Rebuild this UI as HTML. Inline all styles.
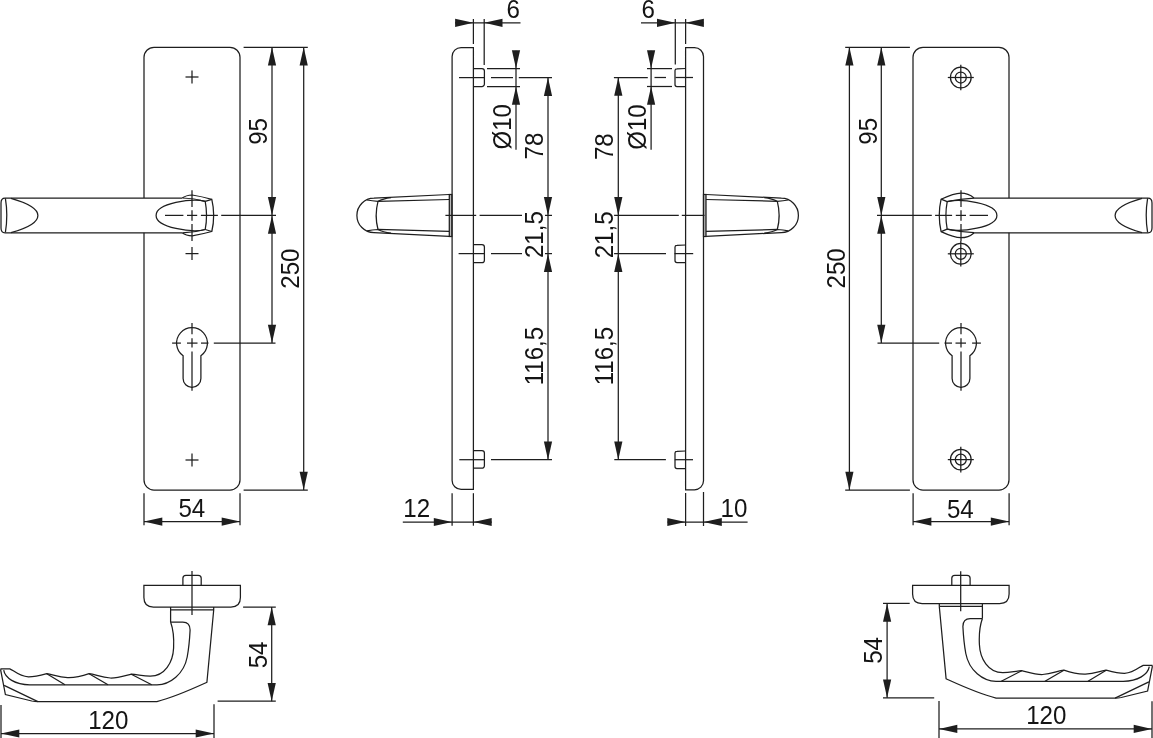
<!DOCTYPE html>
<html><head><meta charset="utf-8"><style>
html,body{margin:0;padding:0;background:#fff;width:1153px;height:738px;overflow:hidden}
svg{display:block;will-change:transform}
text{font-family:"Liberation Sans",sans-serif}
</style></head><body>
<svg width="1153" height="738" viewBox="0 0 1153 738">
<rect width="1153" height="738" fill="#fff"/>
<g fill="none" stroke="#1e1e1e" stroke-width="1.25" stroke-linecap="butt">
<g>
<rect x="144" y="47.3" width="96" height="442.7" rx="10" ry="10"/>
<line x1="185.50" y1="77.00" x2="198.50" y2="77.00"/>
<line x1="192.00" y1="70.50" x2="192.00" y2="83.50"/>
<line x1="185.50" y1="253.60" x2="198.50" y2="253.60"/>
<line x1="192.00" y1="247.10" x2="192.00" y2="260.10"/>
<line x1="185.50" y1="460.00" x2="198.50" y2="460.00"/>
<line x1="192.00" y1="453.50" x2="192.00" y2="466.50"/>
<path d="M182,198.1 L5,198.1 Q1,198.1 1,203 L1,228 Q1,232.8 5,232.8 L182,232.8 L182,198.1" fill="#fff" stroke="none"/>
<path d="M182,198.1 L5,198.1 Q1,198.1 1,203 L1,228 Q1,232.8 5,232.8 L182,232.8" />
<path d="M182.2,198.1 C185,195.8 188,195.1 192.3,195.0 L211.8,199.3 Q215.6,215.4 211.8,231.5 L192.3,235.8 C188,235.7 185,235 182.2,232.7 Z" fill="#fff" stroke="none"/>
<path d="M5.4,198.4 Q8.2,215.4 5.4,232.4" />
<path d="M11,198.3 C24,202 37.9,208 37.9,215.4 C37.9,223 24,229 11,232.6" />
<path d="M182.2,198.1 C185,195.8 188,195.1 192.3,195.0 Q202,196.6 211.8,199.3 Q215.6,215.4 211.8,231.5 Q202,234.2 192.3,235.8 C188,235.7 185,235 182.2,232.7" />
<path d="M182.5,198.0 Q194,198.1 205.2,201.3 Q207.9,215.4 205.2,229.5 Q194,232.7 182.5,232.8" />
<path d="M205.2,201.3 L211.8,199.3 M205.2,229.5 L211.8,231.5" />
<path d="M205.2,201.3 C192.6,197.9 156.1,203 156.1,215.4 C156.1,227.8 192.6,232.9 205.2,229.5" />
<path d="M183.1,355.67 A15.4,15.4 0 1 1 200.9,355.67 L200.9,378.5 A8.9,8.9 0 0 1 183.1,378.5 Z" />
</g>
<g transform="translate(1153,0) scale(-1,1)">
<rect x="144" y="47.3" width="96" height="442.7" rx="10" ry="10"/>
<circle cx="192.2" cy="77.5" r="10.35"/>
<circle cx="192.2" cy="77.5" r="5.5"/>
<line x1="179.20" y1="77.50" x2="205.20" y2="77.50"/>
<line x1="192.20" y1="64.70" x2="192.20" y2="90.30"/>
<circle cx="192.2" cy="253.8" r="10.35"/>
<circle cx="192.2" cy="253.8" r="5.5"/>
<line x1="179.20" y1="253.80" x2="205.20" y2="253.80"/>
<line x1="192.20" y1="241.00" x2="192.20" y2="266.60"/>
<circle cx="192.2" cy="459.6" r="10.35"/>
<circle cx="192.2" cy="459.6" r="5.5"/>
<line x1="179.20" y1="459.60" x2="205.20" y2="459.60"/>
<line x1="192.20" y1="446.80" x2="192.20" y2="472.40"/>
<path d="M182,198.1 L5,198.1 Q1,198.1 1,203 L1,228 Q1,232.8 5,232.8 L182,232.8 L182,198.1" fill="#fff" stroke="none"/>
<path d="M182,198.1 L5,198.1 Q1,198.1 1,203 L1,228 Q1,232.8 5,232.8 L182,232.8" />
<path d="M179,197.9 C183,194.5 188,193.1 192.1,193.1 C198,193.1 204,195.5 211.9,199.2 Q215.6,215.4 211.9,231.6 C204,235.3 198,237.7 192.1,237.7 C188,237.7 183,236.3 179,232.9 Z" fill="#fff" stroke="none"/>
<path d="M5.4,198.4 Q8.2,215.4 5.4,232.4" />
<path d="M11,198.3 C24,202 37.9,208 37.9,215.4 C37.9,223 24,229 11,232.6" />
<path d="M179,197.9 C183,194.5 188,193.1 192.1,193.1 C198,193.1 204,195.5 211.9,199.2 Q215.6,215.4 211.9,231.6 C204,235.3 198,237.7 192.1,237.7 C188,237.7 183,236.3 179,232.9" />
<path d="M179,198.1 C188,198.6 196,199.6 205.8,201.7 Q208.4,215.4 205.8,229.1 C196,231.2 188,232.2 179,232.7" />
<path d="M205.8,201.7 L211.9,199.2 M205.8,229.1 L211.9,231.6" />
<path d="M205.8,201.7 C193,198.4 156.1,203 156.1,215.4 C156.1,227.8 193,232.4 205.8,229.1" />
<path d="M183.1,355.67 A15.4,15.4 0 1 1 200.9,355.67 L200.9,378.5 A8.9,8.9 0 0 1 183.1,378.5 Z" />
</g>
</g>
<g stroke="#1e1e1e" stroke-width="1.25" fill="none">
<line x1="165.00" y1="215.40" x2="183.40" y2="215.40"/>
<line x1="187.00" y1="215.40" x2="197.20" y2="215.40"/>
<line x1="200.90" y1="215.40" x2="217.90" y2="215.40"/>
<line x1="221.20" y1="215.40" x2="276.00" y2="215.40"/>
<line x1="192.00" y1="190.30" x2="192.00" y2="207.00"/>
<line x1="192.00" y1="210.20" x2="192.00" y2="220.80"/>
<line x1="192.00" y1="224.00" x2="192.00" y2="241.10"/>
<line x1="172.10" y1="343.10" x2="180.90" y2="343.10"/>
<line x1="187.00" y1="343.10" x2="197.50" y2="343.10"/>
<line x1="201.00" y1="343.10" x2="208.50" y2="343.10"/>
<line x1="213.80" y1="343.10" x2="275.50" y2="343.10"/>
<line x1="192.00" y1="323.10" x2="192.00" y2="334.30"/>
<line x1="192.00" y1="338.30" x2="192.00" y2="347.50"/>
<line x1="192.00" y1="351.50" x2="192.00" y2="390.70"/>
<line x1="969.60" y1="215.40" x2="988.00" y2="215.40"/>
<line x1="955.80" y1="215.40" x2="966.00" y2="215.40"/>
<line x1="935.10" y1="215.40" x2="952.10" y2="215.40"/>
<line x1="877.00" y1="215.40" x2="931.80" y2="215.40"/>
<line x1="961.00" y1="190.30" x2="961.00" y2="207.00"/>
<line x1="961.00" y1="210.20" x2="961.00" y2="220.80"/>
<line x1="961.00" y1="224.00" x2="961.00" y2="241.10"/>
<line x1="972.10" y1="343.10" x2="980.90" y2="343.10"/>
<line x1="955.50" y1="343.10" x2="966.00" y2="343.10"/>
<line x1="944.50" y1="343.10" x2="952.00" y2="343.10"/>
<line x1="877.50" y1="343.10" x2="939.20" y2="343.10"/>
<line x1="961.00" y1="323.10" x2="961.00" y2="334.30"/>
<line x1="961.00" y1="338.30" x2="961.00" y2="347.50"/>
<line x1="961.00" y1="351.50" x2="961.00" y2="390.70"/>
<line x1="243.60" y1="47.30" x2="307.80" y2="47.30"/>
<line x1="243.60" y1="490.00" x2="307.80" y2="490.00"/>
<line x1="272.00" y1="47.30" x2="272.00" y2="343.10"/>
<line x1="303.70" y1="47.30" x2="303.70" y2="490.00"/>
<polygon points="272.00,47.30 267.90,65.60 276.10,65.60" fill="#1e1e1e" stroke="none"/>
<polygon points="272.00,215.40 267.90,197.10 276.10,197.10" fill="#1e1e1e" stroke="none"/>
<polygon points="272.00,215.40 267.90,233.70 276.10,233.70" fill="#1e1e1e" stroke="none"/>
<polygon points="272.00,343.10 267.90,324.80 276.10,324.80" fill="#1e1e1e" stroke="none"/>
<polygon points="303.70,47.30 299.60,65.60 307.80,65.60" fill="#1e1e1e" stroke="none"/>
<polygon points="303.70,490.00 299.60,471.70 307.80,471.70" fill="#1e1e1e" stroke="none"/>
<line x1="144.00" y1="493.20" x2="144.00" y2="525.30"/>
<line x1="240.00" y1="493.20" x2="240.00" y2="525.30"/>
<line x1="144.00" y1="521.60" x2="240.00" y2="521.60"/>
<polygon points="144.00,521.60 162.30,517.50 162.30,525.70" fill="#1e1e1e" stroke="none"/>
<polygon points="240.00,521.60 221.70,517.50 221.70,525.70" fill="#1e1e1e" stroke="none"/>
<line x1="845.20" y1="47.30" x2="909.90" y2="47.30"/>
<line x1="845.20" y1="490.00" x2="909.90" y2="490.00"/>
<line x1="881.30" y1="47.30" x2="881.30" y2="343.10"/>
<line x1="849.40" y1="47.30" x2="849.40" y2="490.00"/>
<polygon points="881.30,47.30 877.20,65.60 885.40,65.60" fill="#1e1e1e" stroke="none"/>
<polygon points="881.30,215.40 877.20,197.10 885.40,197.10" fill="#1e1e1e" stroke="none"/>
<polygon points="881.30,215.40 877.20,233.70 885.40,233.70" fill="#1e1e1e" stroke="none"/>
<polygon points="881.30,343.10 877.20,324.80 885.40,324.80" fill="#1e1e1e" stroke="none"/>
<polygon points="849.40,47.30 845.30,65.60 853.50,65.60" fill="#1e1e1e" stroke="none"/>
<polygon points="849.40,490.00 845.30,471.70 853.50,471.70" fill="#1e1e1e" stroke="none"/>
<line x1="913.10" y1="493.20" x2="913.10" y2="525.30"/>
<line x1="1009.10" y1="493.20" x2="1009.10" y2="525.30"/>
<line x1="913.10" y1="521.60" x2="1009.10" y2="521.60"/>
<polygon points="913.10,521.60 931.40,517.50 931.40,525.70" fill="#1e1e1e" stroke="none"/>
<polygon points="1009.10,521.60 990.80,517.50 990.80,525.70" fill="#1e1e1e" stroke="none"/>
</g>
<g stroke="#1e1e1e" stroke-width="1.25" fill="none">
<path d="M473.4,47.5 L461.1,47.5 A9,9 0 0 0 452.1,56.5 L452.1,480.4 A9,9 0 0 0 461.1,489.4 L473.4,489.4 Z" />
<path d="M473.4,68.5 L481.9,68.5 A2.5,2.5 0 0 1 484.4,71.0 L484.4,84.0 A2.5,2.5 0 0 1 481.9,86.5 L473.4,86.5" />
<path d="M473.4,244.5 L481.9,244.5 A2.5,2.5 0 0 1 484.4,247.0 L484.4,260.2 A2.5,2.5 0 0 1 481.9,262.7 L473.4,262.7" />
<path d="M473.4,450.6 L481.9,450.6 A2.5,2.5 0 0 1 484.4,453.1 L484.4,465.7 A2.5,2.5 0 0 1 481.9,468.2 L473.4,468.2" />
<path d="M449.2,194.5 L373.9,198.2 A17,17.2 0 0 0 373.9,232.6 L449.2,236.3" />
<path d="M449.2,199.5 L378,201.3 Q372,200.9 367,200.0 M449.2,231.3 L378,229.5 Q372,229.9 367,230.8" />
<path d="M378,201.3 Q374.3,215.4 378,229.5" />
<path d="M378,201.3 Q383,198.6 391,197.6 M378,229.5 Q383,232.2 391,233.2" />
<rect x="449.3" y="194.5" width="2.5" height="42" fill="#bbb"/>
<line x1="459.00" y1="77.60" x2="484.40" y2="77.60"/>
<line x1="491.00" y1="77.60" x2="513.00" y2="77.60"/>
<line x1="518.80" y1="77.60" x2="552.00" y2="77.60"/>
<line x1="445.40" y1="215.40" x2="476.20" y2="215.40"/>
<line x1="479.60" y1="215.40" x2="522.00" y2="215.40"/>
<line x1="545.00" y1="215.40" x2="552.00" y2="215.40"/>
<line x1="458.60" y1="253.60" x2="484.60" y2="253.60"/>
<line x1="491.00" y1="253.60" x2="522.00" y2="253.60"/>
<line x1="545.00" y1="253.60" x2="552.00" y2="253.60"/>
<line x1="459.30" y1="459.70" x2="484.40" y2="459.70"/>
<line x1="491.00" y1="459.70" x2="552.00" y2="459.70"/>
<line x1="473.40" y1="19.00" x2="473.40" y2="44.00"/>
<line x1="484.20" y1="19.00" x2="484.20" y2="65.00"/>
<line x1="455.00" y1="22.80" x2="520.50" y2="22.80"/>
<polygon points="473.40,22.80 455.10,18.70 455.10,26.90" fill="#1e1e1e" stroke="none"/>
<polygon points="484.20,22.80 502.50,18.70 502.50,26.90" fill="#1e1e1e" stroke="none"/>
<line x1="487.00" y1="68.60" x2="520.00" y2="68.60"/>
<line x1="487.00" y1="86.50" x2="520.00" y2="86.50"/>
<line x1="516.00" y1="50.80" x2="516.00" y2="149.80"/>
<polygon points="516.00,68.60 511.90,50.30 520.10,50.30" fill="#1e1e1e" stroke="none"/>
<polygon points="516.00,86.50 511.90,104.80 520.10,104.80" fill="#1e1e1e" stroke="none"/>
<line x1="548.00" y1="77.60" x2="548.00" y2="459.70"/>
<polygon points="548.00,77.60 543.90,95.90 552.10,95.90" fill="#1e1e1e" stroke="none"/>
<polygon points="548.00,215.40 543.90,197.10 552.10,197.10" fill="#1e1e1e" stroke="none"/>
<polygon points="548.00,253.60 543.90,271.90 552.10,271.90" fill="#1e1e1e" stroke="none"/>
<polygon points="548.00,459.70 543.90,441.40 552.10,441.40" fill="#1e1e1e" stroke="none"/>
<line x1="452.10" y1="493.20" x2="452.10" y2="525.70"/>
<line x1="473.40" y1="493.20" x2="473.40" y2="525.70"/>
<line x1="402.80" y1="522.00" x2="491.80" y2="522.00"/>
<polygon points="452.10,522.00 433.80,517.90 433.80,526.10" fill="#1e1e1e" stroke="none"/>
<polygon points="473.40,522.00 491.70,517.90 491.70,526.10" fill="#1e1e1e" stroke="none"/>
</g>
<g stroke="#1e1e1e" stroke-width="1.25" fill="none">
<path d="M685.6,47.6 L694.5,47.6 A9,9 0 0 1 703.5,56.6 L703.5,480.8 A9,9 0 0 1 694.5,489.8 L685.6,489.8 Z" />
<path d="M685.6,68.5 L677,68.9 Q675,68.9 675,70.5 L675,84.5 Q675,86.5 677,86.5 L685.6,86.5" />
<path d="M685.6,245 L677,245.4 Q675,245.4 675,247 L675,260.6 Q675,262.6 677,262.6 L685.6,262.6" />
<path d="M685.6,451 L677,451.4 Q675,451.4 675,453 L675,466.6 Q675,468.6 677,468.6 L685.6,468.6" />
<g transform="translate(1155.3,0) scale(-1,1)">
<path d="M449.2,194.5 L373.9,198.2 A17,17.2 0 0 0 373.9,232.6 L449.2,236.3" />
<path d="M449.2,199.5 L378,201.3 Q372,200.9 367,200.0 M449.2,231.3 L378,229.5 Q372,229.9 367,230.8" />
<path d="M378,201.3 Q374.3,215.4 378,229.5" />
<path d="M378,201.3 Q383,198.6 391,197.6 M378,229.5 Q383,232.2 391,233.2" />
<rect x="449.3" y="194.5" width="2.5" height="42" fill="#bbb"/>
</g>
<line x1="613.90" y1="77.50" x2="647.80" y2="77.50"/>
<line x1="654.50" y1="77.50" x2="666.00" y2="77.50"/>
<line x1="675.50" y1="77.50" x2="693.00" y2="77.50"/>
<line x1="614.10" y1="215.40" x2="678.80" y2="215.40"/>
<line x1="681.80" y1="215.40" x2="704.50" y2="215.40"/>
<line x1="614.10" y1="253.60" x2="666.00" y2="253.60"/>
<line x1="674.50" y1="253.60" x2="693.20" y2="253.60"/>
<line x1="614.30" y1="459.70" x2="665.90" y2="459.70"/>
<line x1="674.80" y1="459.70" x2="693.00" y2="459.70"/>
<line x1="675.30" y1="19.00" x2="675.30" y2="64.40"/>
<line x1="685.60" y1="19.00" x2="685.60" y2="44.00"/>
<line x1="641.00" y1="22.80" x2="703.60" y2="22.80"/>
<polygon points="675.30,22.80 657.00,18.70 657.00,26.90" fill="#1e1e1e" stroke="none"/>
<polygon points="685.60,22.80 703.90,18.70 703.90,26.90" fill="#1e1e1e" stroke="none"/>
<line x1="647.00" y1="68.60" x2="672.00" y2="68.60"/>
<line x1="647.00" y1="86.50" x2="672.00" y2="86.50"/>
<line x1="651.10" y1="50.80" x2="651.10" y2="149.80"/>
<polygon points="651.10,68.60 647.00,50.30 655.20,50.30" fill="#1e1e1e" stroke="none"/>
<polygon points="651.10,86.50 647.00,104.80 655.20,104.80" fill="#1e1e1e" stroke="none"/>
<line x1="618.30" y1="77.50" x2="618.30" y2="459.70"/>
<polygon points="618.30,77.50 614.20,95.80 622.40,95.80" fill="#1e1e1e" stroke="none"/>
<polygon points="618.30,215.40 614.20,197.10 622.40,197.10" fill="#1e1e1e" stroke="none"/>
<polygon points="618.30,253.60 614.20,271.90 622.40,271.90" fill="#1e1e1e" stroke="none"/>
<polygon points="618.30,459.70 614.20,441.40 622.40,441.40" fill="#1e1e1e" stroke="none"/>
<line x1="685.60" y1="493.00" x2="685.60" y2="526.00"/>
<line x1="703.50" y1="492.00" x2="703.50" y2="526.00"/>
<line x1="667.50" y1="522.00" x2="747.60" y2="522.00"/>
<polygon points="685.60,522.00 667.30,517.90 667.30,526.10" fill="#1e1e1e" stroke="none"/>
<polygon points="703.50,522.00 721.80,517.90 721.80,526.10" fill="#1e1e1e" stroke="none"/>
</g>
<g stroke="#1e1e1e" stroke-width="1.25" fill="none">
<path d="M143.9,585.4 L240.4,585.4 L240.4,597.6 Q240.4,607.1 230.9,607.1 L153.4,607.1 Q143.9,607.1 143.9,597.6 Z" />
<path d="M182.9,585.4 L182.9,578.3 Q182.9,575.3 185.9,575.3 L198.2,575.3 Q201.2,575.3 201.2,578.3 L201.2,585.4" />
<g transform="translate(0,0)">
<path d="M170.6,607.1 L170.6,622 M170.6,609.9 L213.7,609.9 M213.7,607.1 L213.7,610" />
<path d="M170.6,622 C173.5,630 174,640 173.6,648 C173,662 165,676.4 150,676.2 C143,676 137,674.5 131.3,674.2 C124,676 117,678.2 110.4,678 C101,677.5 95,674.2 89.1,673.7 C81,676.5 74,677.8 67.6,677.6 C58,677.2 52,674.2 46.8,673.7 C40,675.5 34,677 28.4,676.9 C19,676.3 13,670 9.8,668.8 L1,668.8 L0.7,670.2 L5.4,694.5 L31.8,701 Q35,701.6 37.9,701.6 L156.9,701.6 C175,697 190,690 206.9,682.3 L213.7,610" />
<path d="M170.6,622 L182.8,622 Q190.1,622 190.1,630 C189.6,640 188.5,650 187.2,657 C184,674 170,684.8 157,684.8 L29.8,684.8 C15,684.6 5,678 3.7,670.2" />
<path d="M46.8,673.7 L65,684.8 M89.1,673.7 L108,684.8 M131.3,674.2 L151.7,684.8 M4.1,685.4 L37.9,701.6" />
</g>
<g transform="translate(1153,0) scale(-1,1)">
<path d="M143.9,585.4 L240.4,585.4 L240.4,594.1 Q240.4,603.6 230.9,603.6 L153.4,603.6 Q143.9,603.6 143.9,594.1 Z" />
<path d="M182.9,585.4 L182.9,578.3 Q182.9,575.3 185.9,575.3 L198.2,575.3 Q201.2,575.3 201.2,578.3 L201.2,585.4" />
<g transform="translate(0,-3.5)">
<path d="M170.6,607.1 L170.6,622 M170.6,609.9 L213.7,609.9 M213.7,607.1 L213.7,610" />
<path d="M170.6,622 C173.5,630 174,640 173.6,648 C173,662 165,676.4 150,676.2 C143,676 137,674.5 131.3,674.2 C124,676 117,678.2 110.4,678 C101,677.5 95,674.2 89.1,673.7 C81,676.5 74,677.8 67.6,677.6 C58,677.2 52,674.2 46.8,673.7 C40,675.5 34,677 28.4,676.9 C19,676.3 13,670 9.8,668.8 L1,668.8 L0.7,670.2 L5.4,694.5 L31.8,701 Q35,701.6 37.9,701.6 L156.9,701.6 C175,697 190,690 206.9,682.3 L213.7,610" />
<path d="M170.6,622 L182.8,622 Q190.1,622 190.1,630 C189.6,640 188.5,650 187.2,657 C184,674 170,684.8 157,684.8 L29.8,684.8 C15,684.6 5,678 3.7,670.2" />
<path d="M46.8,673.7 L65,684.8 M89.1,673.7 L108,684.8 M131.3,674.2 L151.7,684.8 M4.1,685.4 L37.9,701.6" />
</g>
</g>
<line x1="192.00" y1="571.00" x2="192.00" y2="614.90"/>
<line x1="960.70" y1="571.20" x2="960.70" y2="611.20"/>
<line x1="243.10" y1="607.00" x2="275.80" y2="607.00"/>
<line x1="217.60" y1="701.20" x2="275.80" y2="701.20"/>
<line x1="271.70" y1="607.00" x2="271.70" y2="701.20"/>
<polygon points="271.70,607.00 267.60,625.30 275.80,625.30" fill="#1e1e1e" stroke="none"/>
<polygon points="271.70,701.20 267.60,682.90 275.80,682.90" fill="#1e1e1e" stroke="none"/>
<line x1="1.00" y1="704.90" x2="1.00" y2="738.00"/>
<line x1="214.00" y1="704.20" x2="214.00" y2="738.00"/>
<line x1="1.00" y1="733.50" x2="214.00" y2="733.50"/>
<polygon points="1.00,733.50 19.30,729.40 19.30,737.60" fill="#1e1e1e" stroke="none"/>
<polygon points="214.00,733.50 195.70,729.40 195.70,737.60" fill="#1e1e1e" stroke="none"/>
<line x1="883.00" y1="603.40" x2="909.70" y2="603.40"/>
<line x1="883.00" y1="697.80" x2="934.20" y2="697.80"/>
<line x1="887.10" y1="603.40" x2="887.10" y2="697.80"/>
<polygon points="887.10,603.40 883.00,621.70 891.20,621.70" fill="#1e1e1e" stroke="none"/>
<polygon points="887.10,697.80 883.00,679.50 891.20,679.50" fill="#1e1e1e" stroke="none"/>
<line x1="939.00" y1="701.00" x2="939.00" y2="738.00"/>
<line x1="1152.00" y1="701.20" x2="1152.00" y2="738.00"/>
<line x1="939.00" y1="728.90" x2="1152.00" y2="728.90"/>
<polygon points="939.00,728.90 957.30,724.80 957.30,733.00" fill="#1e1e1e" stroke="none"/>
<polygon points="1152.00,728.90 1133.70,724.80 1133.70,733.00" fill="#1e1e1e" stroke="none"/>
</g>
<g font-family="Liberation Sans" font-size="25" fill="#141414">
<text transform="translate(266.85,131.40) rotate(-90) scale(0.965,1)" x="0" y="0" text-anchor="middle">95</text>
<text transform="translate(298.65,268.65) rotate(-90) scale(0.965,1)" x="0" y="0" text-anchor="middle">250</text>
<text transform="translate(191.80,516.75) scale(0.965,1)" x="0" y="0" text-anchor="middle">54</text>
<text transform="translate(876.50,131.30) rotate(-90) scale(0.965,1)" x="0" y="0" text-anchor="middle">95</text>
<text transform="translate(844.90,268.40) rotate(-90) scale(0.965,1)" x="0" y="0" text-anchor="middle">250</text>
<text transform="translate(960.30,517.60) scale(0.965,1)" x="0" y="0" text-anchor="middle">54</text>
<text transform="translate(513.20,18.40) scale(0.965,1)" x="0" y="0" text-anchor="middle">6</text>
<text transform="translate(648.20,18.40) scale(0.965,1)" x="0" y="0" text-anchor="middle">6</text>
<text transform="translate(511.20,126.75) rotate(-90) scale(0.965,1)" x="0" y="0" text-anchor="middle">Ø10</text>
<text transform="translate(646.25,127.00) rotate(-90) scale(0.965,1)" x="0" y="0" text-anchor="middle">Ø10</text>
<text transform="translate(542.70,146.00) rotate(-90) scale(0.965,1)" x="0" y="0" text-anchor="middle">78</text>
<text transform="translate(613.00,146.70) rotate(-90) scale(0.965,1)" x="0" y="0" text-anchor="middle">78</text>
<text transform="translate(543.00,234.60) rotate(-90) scale(0.965,1)" x="0" y="0" text-anchor="middle">21,5</text>
<text transform="translate(613.10,234.85) rotate(-90) scale(0.965,1)" x="0" y="0" text-anchor="middle">21,5</text>
<text transform="translate(543.00,356.10) rotate(-90) scale(0.965,1)" x="0" y="0" text-anchor="middle">116,5</text>
<text transform="translate(613.20,356.10) rotate(-90) scale(0.965,1)" x="0" y="0" text-anchor="middle">116,5</text>
<text transform="translate(416.75,516.75) scale(0.965,1)" x="0" y="0" text-anchor="middle">12</text>
<text transform="translate(734.00,517.00) scale(0.965,1)" x="0" y="0" text-anchor="middle">10</text>
<text transform="translate(267.00,654.90) rotate(-90) scale(0.965,1)" x="0" y="0" text-anchor="middle">54</text>
<text transform="translate(882.25,650.40) rotate(-90) scale(0.965,1)" x="0" y="0" text-anchor="middle">54</text>
<text transform="translate(108.30,728.70) scale(0.965,1)" x="0" y="0" text-anchor="middle">120</text>
<text transform="translate(1046.25,723.85) scale(0.965,1)" x="0" y="0" text-anchor="middle">120</text>
</g>
</svg>
</body></html>
